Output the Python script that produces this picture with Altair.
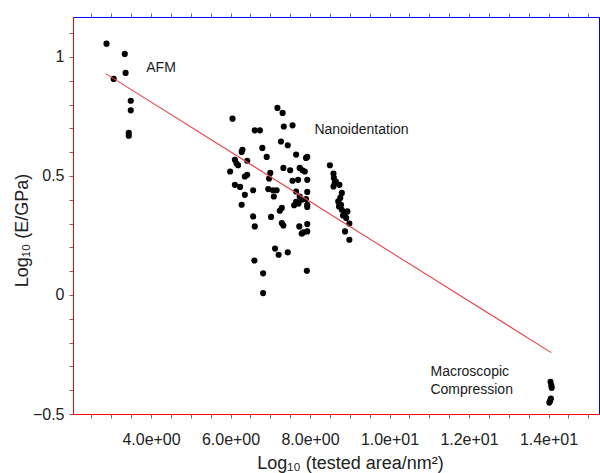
import altair as alt
import pandas as pd

# ---- data ----
afm_x = [2.88, 3.34, 3.06, 3.36, 3.49, 3.49, 3.44, 3.44]
afm_y = [1.056, 1.013, 0.908, 0.933, 0.816, 0.776, 0.681, 0.669]

nano_x = [6.05, 6.61, 6.74, 7.18, 7.31, 7.34, 7.56, 7.27, 7.44, 6.30, 6.28, 6.80, 6.91, 7.65,
          7.90, 7.93, 6.11, 6.15, 6.19, 6.42, 5.99, 7.33, 7.50, 7.74, 7.81, 7.87, 7.00, 6.36,
          6.42, 6.97, 7.56, 7.70, 7.93, 6.11, 6.24, 6.57, 6.95, 7.07, 7.16, 7.65, 7.93, 6.36,
          7.09, 7.74, 7.79, 7.90, 7.65, 7.71, 7.60, 7.93, 7.93, 6.28, 7.29, 7.24, 6.57, 7.02,
          7.29, 7.33, 6.61, 7.73, 7.93, 7.83, 7.93, 7.79, 7.12, 7.21, 7.44, 6.60, 7.92, 6.82,
          6.82,
          8.50, 8.59, 8.60, 8.65, 8.74, 8.59, 8.80, 8.76, 8.71, 8.78, 8.80, 8.88, 8.94, 8.91,
          8.99, 8.88, 8.99, 8.62, 8.73, 8.83]
nano_y = [0.741, 0.692, 0.692, 0.786, 0.765, 0.708, 0.713, 0.645, 0.629, 0.610, 0.601, 0.618,
          0.580, 0.590, 0.576, 0.580, 0.568, 0.552, 0.545, 0.564, 0.519, 0.534, 0.524, 0.534,
          0.524, 0.519, 0.513, 0.498, 0.505, 0.489, 0.480, 0.484, 0.484, 0.463, 0.454, 0.440,
          0.445, 0.440, 0.440, 0.435, 0.433, 0.421, 0.414, 0.414, 0.400, 0.403, 0.391, 0.384,
          0.377, 0.379, 0.370, 0.379, 0.366, 0.354, 0.330, 0.328, 0.302, 0.292, 0.288, 0.288,
          0.298, 0.263, 0.267, 0.258, 0.195, 0.169, 0.179, 0.145, 0.102, 0.091, 0.008,
          0.545, 0.510, 0.492, 0.477, 0.463, 0.456, 0.429, 0.408, 0.393, 0.379, 0.358, 0.347,
          0.351, 0.324, 0.300, 0.267, 0.232, 0.470, 0.372, 0.334]

macro_x = [14.05, 14.07, 14.08, 14.06, 14.04, 14.02]
macro_y = [-0.365, -0.380, -0.390, -0.435, -0.445, -0.452]

fit_x = [2.86, 14.07]
fit_y = [0.930, -0.242]

label_text = ["AFM", "Nanoidentation", "Macroscopic", "Compression"]
label_x = [3.88, 8.11, 11.03, 11.03]
label_y = [0.955, 0.695, -0.324, -0.398]

x_ticks = [2.5, 3.0, 3.5, 4.0, 4.5, 5.0, 5.5, 6.0, 6.5, 7.0, 7.5, 8.0, 8.5, 9.0, 9.5, 10.0,
           10.5, 11.0, 11.5, 12.0, 12.5, 13.0, 13.5, 14.0, 14.5, 15.0]
x_major = [4, 6, 8, 10, 12, 14]
x_major_labels = ["4.0e+00", "6.0e+00", "8.0e+00", "1.0e+01", "1.2e+01", "1.4e+01"]

y_ticks = [-0.5, -0.4, -0.3, -0.2, -0.1, 0.0, 0.1, 0.2, 0.3, 0.4, 0.5, 0.6, 0.7, 0.8, 0.9,
           1.0, 1.1]
y_major = [-0.5, 0, 0.5, 1]
y_major_labels = ["\u22120.5", "0", "0.5", "1"]

x_domain = [2.037, 15.27]
y_domain = [-0.5, 1.168]

# ---- tables ----
pts = pd.DataFrame({
    "x": afm_x + nano_x + macro_x,
    "y": afm_y + nano_y + macro_y,
})
fit = pd.DataFrame({"x": fit_x, "y": fit_y})
labels = pd.DataFrame({"t": label_text, "x": label_x, "y": label_y})


def label_expr(vals, labs):
    expr = "''"
    for v, l in reversed(list(zip(vals, labs))):
        expr = f"abs(datum.value - ({v})) < 1e-6 ? '{l}' : {expr}"
    return expr


FONT = "Liberation Sans"
AX = "#6a6a6a"

x_bottom = alt.Axis(
    values=x_ticks, labelExpr=label_expr(x_major, x_major_labels),
    tickSize=4, domainColor="red", domainWidth=1,
    labelFontSize=16, labelFont=FONT, labelColor="#222", labelPadding=13,
    labelFlush=False, labelOverlap=False,
    title="Log\u2081\u2080 (tested area/nm\u00b2)", titleFont=FONT, titleFontSize=18,
    titleFontWeight="normal", titleColor="#222",
    titleX=277, titleY=49, titleBaseline="middle", titleAlign="center",
    tickColor=AX, grid=False,
)
y_left = alt.Axis(
    values=y_ticks, labelExpr=label_expr(y_major, y_major_labels),
    tickSize=4, domainColor="red", domainWidth=1,
    labelFontSize=16, labelFont=FONT, labelColor="#222", labelPadding=5,
    labelFlush=False, labelOverlap=False,
    title="Log\u2081\u2080 (E/GPa)", titleFont=FONT, titleFontSize=18,
    titleFontWeight="normal", titleColor="#222",
    titleX=-51, titleY=213, titleAngle=270, titleBaseline="middle", titleAlign="center",
    tickColor=AX, grid=False,
)
x_top = alt.Axis(
    orient="top", values=x_ticks, labels=False, title=None,
    tickSize=4, domainColor="blue", tickColor=AX, grid=False,
)
y_right = alt.Axis(
    orient="right", values=y_ticks, labels=False, title=None,
    tickSize=4, domainColor="blue", tickColor=AX, grid=False,
)

xs = alt.Scale(domain=x_domain, nice=False, zero=False)
ys = alt.Scale(domain=y_domain, nice=False, zero=False)

points = alt.Chart(pts).mark_circle(size=38, color="black", opacity=1).encode(
    x=alt.X("x:Q", scale=xs, axis=x_bottom),
    y=alt.Y("y:Q", scale=ys, axis=y_left),
)
line = alt.Chart(fit).mark_line(color="#e5474f", strokeWidth=1.1).encode(
    x=alt.X("x:Q", scale=xs, axis=x_top),
    y=alt.Y("y:Q", scale=ys, axis=y_right),
)
text = alt.Chart(labels).mark_text(
    align="left", baseline="middle", font=FONT, fontSize=14, color="#1a1a1a"
).encode(
    x=alt.X("x:Q", scale=xs, axis=None),
    y=alt.Y("y:Q", scale=ys, axis=None),
    text="t:N",
)

chart = alt.layer(points, line, text).resolve_scale(
    x="independent", y="independent"
).resolve_axis(
    x="independent", y="independent"
).properties(
    width=526, height=397,
    padding={"left": 73, "top": 17, "right": 1, "bottom": 59},
    autosize=alt.AutoSizeParams(type="none"),
).configure_view(stroke="purple", strokeWidth=1)

chart.save("out.html", embed_options={"renderer": "svg", "actions": False})
